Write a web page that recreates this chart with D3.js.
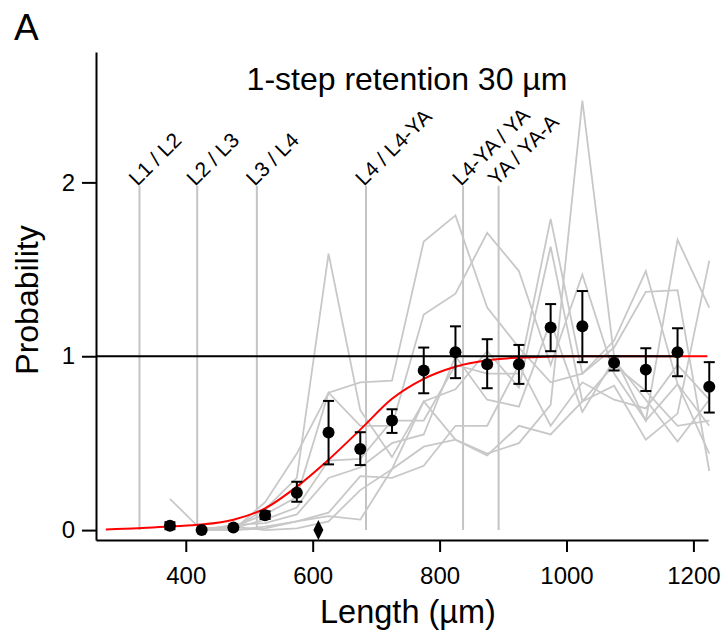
<!DOCTYPE html>
<html>
<head>
<meta charset="utf-8">
<script src="https://cdn.jsdelivr.net/npm/d3@7"></script>
<style>
  body { margin: 0; background: #fff; }
  text { font-family: "Liberation Sans", Arial, sans-serif; fill: #000; }
</style>
</head>
<body>
<div id="chart"></div>
<script>
// body length bins (µm)
var lengths = [375, 425, 475, 525, 575, 625, 675, 725, 775, 825, 875, 925, 975, 1025, 1075, 1125, 1175, 1225];

// mean retention probability and error bar ends
var meanProb = [0.025, 0.0, 0.015, 0.086, 0.215, 0.561, 0.467, 0.630, 0.918, 1.023, 0.954, 0.954, 1.165, 1.172, 0.962, 0.923, 1.023, 0.824];
var errLow = [0.005, 0.0, 0.015, 0.064, 0.163, 0.378, 0.374, 0.559, 0.787, 0.874, 0.816, 0.841, 1.029, 0.966, 0.918, 0.800, 0.885, 0.676];
var errHigh = [0.045, 0.0, 0.015, 0.108, 0.278, 0.743, 0.563, 0.695, 1.050, 1.172, 1.098, 1.065, 1.300, 1.375, 1.000, 1.046, 1.161, 0.966];

// individual traces (gray), one value per length bin, null = no value
var traces = [
  [0.18, 0.00, 0.00, 0.02, 0.05, 0.08, 0.06, 0.35, 0.48, 0.52, 0.44, 0.50, 0.72, 2.47, 1.00, 0.63, 0.84, 0.60],
  [null, 0.00, 0.01, 0.12, 0.30, 1.59, 0.69, 0.42, 0.74, 0.81, 1.03, 0.82, 1.63, 0.74, 0.83, 0.52, 0.67, 1.55],
  [null, 0.00, 0.00, 0.16, 0.44, 0.79, 0.85, 0.86, 1.66, 1.81, 1.28, 1.05, 0.85, 0.90, 1.09, 1.49, 0.84, 0.44],
  [null, 0.00, 0.02, 0.09, 0.19, 0.79, 0.60, 0.60, 1.24, 1.36, 1.71, 1.49, 0.95, 1.47, 0.90, 0.63, 1.67, 1.28],
  [null, 0.01, 0.01, 0.06, 0.13, 0.40, 0.41, 0.63, 0.63, 0.95, 0.90, 0.90, 1.79, 0.90, 1.05, 1.37, 1.38, 0.34],
  [null, 0.00, 0.03, 0.04, 0.09, 0.30, 0.36, 0.50, 0.55, 1.00, 0.75, 0.71, 1.20, 0.68, 0.98, 0.75, 0.51, 0.75],
  [null, 0.00, 0.00, 0.01, 0.05, 0.10, 0.31, 0.30, 0.37, 0.60, 0.60, 0.95, 0.60, 0.85, 0.75, 0.70, 0.95, 0.75],
  [null, 0.01, 0.02, 0.00, 0.01, 0.05, 0.23, 0.35, 0.74, 0.52, 0.43, 0.60, 0.55, 0.74, 0.95, 0.80, 0.60, 0.63]
];

// fitted sigmoid (red)
var fitLength = [274, 325, 375, 425, 475, 525, 575, 625, 675, 725, 775, 825, 875, 925, 975, 1025, 1125, 1222];
var fitProb = [0.004, 0.010, 0.021, 0.032, 0.060, 0.125, 0.250, 0.405, 0.578, 0.755, 0.870, 0.940, 0.977, 0.992, 0.998, 1.0, 1.0, 1.0];

// stage transitions
var stageBounds = [327, 418, 512, 684, 837, 893];
var stageLabels = ["L1 / L2", "L2 / L3", "L3 / L4", "L4 / L4-YA", "L4-YA / YA", "YA / YA-A"];
var stageTop = 1.98;

// reference line at probability 1
var unityRange = [258.5, 1173];

// half-max length marker
var halfMaxLength = 609;

var xTicks = [400, 600, 800, 1000, 1200];
var yTicks = [0, 1, 2];

var width = 725;
var height = 635;

var svg = d3
  .select("#chart")
  .append("svg")
  .attr("width", width)
  .attr("height", height);

var xScale = d3.scaleLinear().domain([258.5, 1223]).range([96, 708]);
var yScale = d3.scaleLinear().domain([-0.057, 2.75]).range([540, 52]);

// stage lines and labels
stageBounds.forEach(function(s, i) {
  svg.append("line")
    .attr("x1", xScale(s))
    .attr("x2", xScale(s))
    .attr("y1", yScale(0))
    .attr("y2", yScale(stageTop))
    .attr("stroke", "#c4c4c4")
    .attr("stroke-width", 2);

  svg.append("text")
    .attr("transform", "translate(" + (xScale(s) - 2) + "," + (yScale(stageTop) + 1) + ")rotate(-45)")
    .attr("font-size", 21)
    .text(stageLabels[i]);
});

// gray traces
var traceLine = d3.line()
  .defined(function(d) { return d[1] !== null; })
  .x(function(d) { return xScale(d[0]); })
  .y(function(d) { return yScale(d[1]); });

traces.forEach(function(t) {
  svg.append("path")
    .attr("d", traceLine(t.map(function(v, i) { return [lengths[i], v]; })))
    .attr("fill", "none")
    .attr("stroke", "#c8c8c8")
    .attr("stroke-width", 1.8);
});

// fitted curve
var fitLine = d3.line()
  .curve(d3.curveMonotoneX)
  .x(function(d) { return xScale(d[0]); })
  .y(function(d) { return yScale(d[1]); });

svg.append("path")
  .attr("d", fitLine(fitLength.map(function(v, i) { return [v, fitProb[i]]; })))
  .attr("fill", "none")
  .attr("stroke", "#ff0000")
  .attr("stroke-width", 2);

// line at 1
svg.append("line")
  .attr("x1", xScale(unityRange[0]))
  .attr("x2", xScale(unityRange[1]))
  .attr("y1", yScale(1))
  .attr("y2", yScale(1))
  .attr("stroke", "#000")
  .attr("stroke-width", 2);

// axes
var xAxis = d3.axisBottom(xScale).tickValues(xTicks).tickFormat(d3.format("d"))
  .tickSize(12).tickSizeOuter(0).tickPadding(15);
var yAxis = d3.axisLeft(yScale).tickValues(yTicks).tickFormat(d3.format("d"))
  .tickSize(14).tickSizeOuter(0).tickPadding(7);

var gx = svg.append("g")
  .attr("transform", "translate(0," + 540 + ")")
  .call(xAxis);
var gy = svg.append("g")
  .attr("transform", "translate(" + 96 + ",0)")
  .call(yAxis);

[gx, gy].forEach(function(g) {
  g.selectAll("path, line").attr("stroke", "#000").attr("stroke-width", 2);
  g.selectAll("text")
    .attr("font-size", 24)
    .attr("font-family", "'Liberation Sans', Arial, sans-serif")
    .attr("fill", "#000");
});

// error bars
var capW = 5.5;
lengths.forEach(function(l, i) {
  if (errHigh[i] - errLow[i] <= 0) return;
  var cx = xScale(l);
  var g = svg.append("g").attr("stroke", "#000").attr("stroke-width", 2);
  g.append("line").attr("x1", cx).attr("x2", cx).attr("y1", yScale(errLow[i])).attr("y2", yScale(errHigh[i]));
  g.append("line").attr("x1", cx - capW).attr("x2", cx + capW).attr("y1", yScale(errLow[i])).attr("y2", yScale(errLow[i]));
  g.append("line").attr("x1", cx - capW).attr("x2", cx + capW).attr("y1", yScale(errHigh[i])).attr("y2", yScale(errHigh[i]));
});

// mean points
svg.selectAll("circle.mean")
  .data(meanProb)
  .enter()
  .append("circle")
  .attr("class", "mean")
  .attr("cx", function(d, i) { return xScale(lengths[i]); })
  .attr("cy", function(d) { return yScale(d); })
  .attr("r", 6)
  .attr("fill", "#000");

// diamond marker
var dx = xScale(halfMaxLength);
var dy = yScale(0);
svg.append("path")
  .attr("d", "M" + dx + "," + (dy - 10) + "L" + (dx + 5) + "," + dy + "L" + dx + "," + (dy + 10) + "L" + (dx - 5) + "," + dy + "Z")
  .attr("fill", "#000");

// titles
svg.append("text")
  .attr("x", 407)
  .attr("y", 90)
  .attr("text-anchor", "middle")
  .attr("font-size", 32)
  .text("1-step retention 30 µm");

svg.append("text")
  .attr("x", 408)
  .attr("y", 623)
  .attr("text-anchor", "middle")
  .attr("font-size", 32.5)
  .text("Length (µm)");

svg.append("text")
  .attr("transform", "translate(38,300)rotate(-90)")
  .attr("text-anchor", "middle")
  .attr("font-size", 32)
  .text("Probability");

svg.append("text")
  .attr("x", 14)
  .attr("y", 40)
  .attr("font-size", 37)
  .text("A");
</script>
</body>
</html>
